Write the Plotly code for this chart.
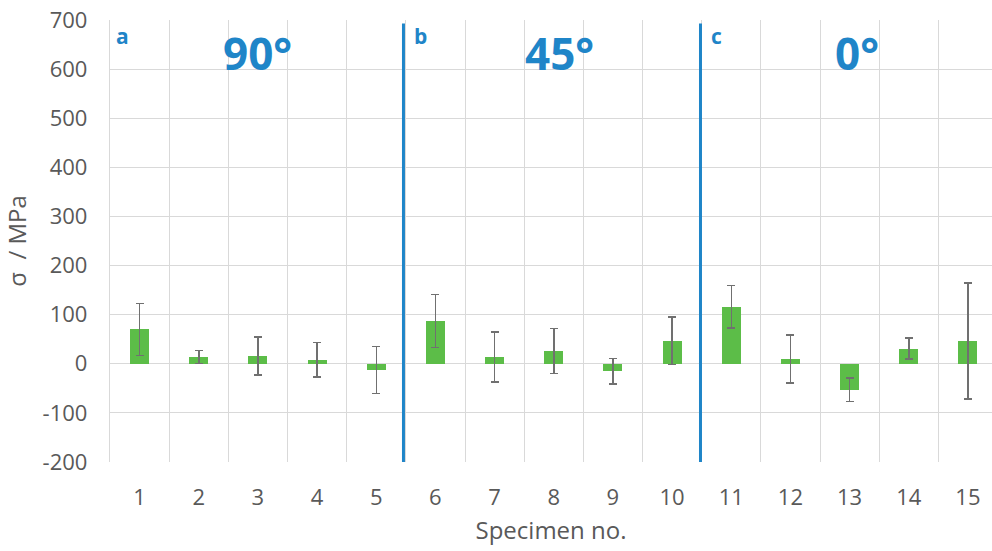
import plotly.graph_objects as go

specimens = list(range(1, 16))
stress = [70, 14, 16, 8, -13, 87, 14, 26, -15, 47, 116, 10, -53, 31, 46]
err = [53, 13, 39, 35, 48, 54, 51, 46, 26, 48, 43, 49, 24, 21, 118]
y_ticks = [-200, -100, 0, 100, 200, 300, 400, 500, 600, 700]
separators = [5.46, 10.48]
panel_letters = ["a", "b", "c"]
letter_x = [0.57, 5.6, 10.63]
panel_titles = ["90°", "45°", "0°"]
title_x = [2.99, 8.09, 13.12]

BLUE = "#1f85c8"
GRID = "#d9d9d9"
TXT = "#595959"
FONT = "Open Sans"

fig = go.Figure()
fig.add_trace(go.Bar(
    x=specimens, y=stress, width=0.32,
    marker=dict(color="#5cbd48", line=dict(width=0)),
    error_y=dict(type="data", array=err, visible=True, color="#707070",
                 thickness=1.5, width=4),
    showlegend=False,
))

shapes = []
for s in separators:
    shapes.append(dict(type="line", xref="x", yref="y", x0=s, x1=s, y0=-200, y1=693,
                       line=dict(color=BLUE, width=3)))

annotations = []
for lx, lt in zip(letter_x, panel_letters):
    annotations.append(dict(x=lx, y=668, xref="x", yref="y", text=lt, showarrow=False,
                            xanchor="left", yanchor="middle",
                            font=dict(family=FONT, size=21, color=BLUE, weight="bold")))
for tx, tt in zip(title_x, panel_titles):
    annotations.append(dict(x=tx, y=632, xref="x", yref="y", text=tt, showarrow=False,
                            xanchor="center", yanchor="middle",
                            font=dict(family=FONT, size=44, color=BLUE, weight="bold")))

fig.update_layout(
    width=992, height=551,
    margin=dict(l=110, r=0, t=20, b=89),
    paper_bgcolor="white", plot_bgcolor="white",
    font=dict(family=FONT, color=TXT),
    shapes=shapes, annotations=annotations,
    bargap=0,
)
fig.update_xaxes(
    range=[0.5, 15.407], tickvals=specimens, ticktext=[str(v) for v in specimens],
    showgrid=False, zeroline=False, showline=False,
    tickfont=dict(size=22, color=TXT), ticks="", ticklabelstandoff=20,
    minor=dict(showgrid=True, tick0=0.5, dtick=1, gridcolor=GRID, gridwidth=1.3),
    title=dict(text="Specimen no.", font=dict(size=24, color=TXT), standoff=12),
)
fig.update_yaxes(
    range=[-200, 700], tickvals=y_ticks, ticktext=[str(v) for v in y_ticks],
    showgrid=True, gridcolor=GRID, gridwidth=1.3,
    zeroline=True, zerolinecolor=GRID, zerolinewidth=1.3,
    showline=True, linecolor=GRID, linewidth=1.3,
    tickfont=dict(size=22, color=TXT), ticks="", ticklabelstandoff=17,
    title=dict(text="σ  / MPa", font=dict(size=24, color=TXT), standoff=14),
)

fig.write_html("out.html")
